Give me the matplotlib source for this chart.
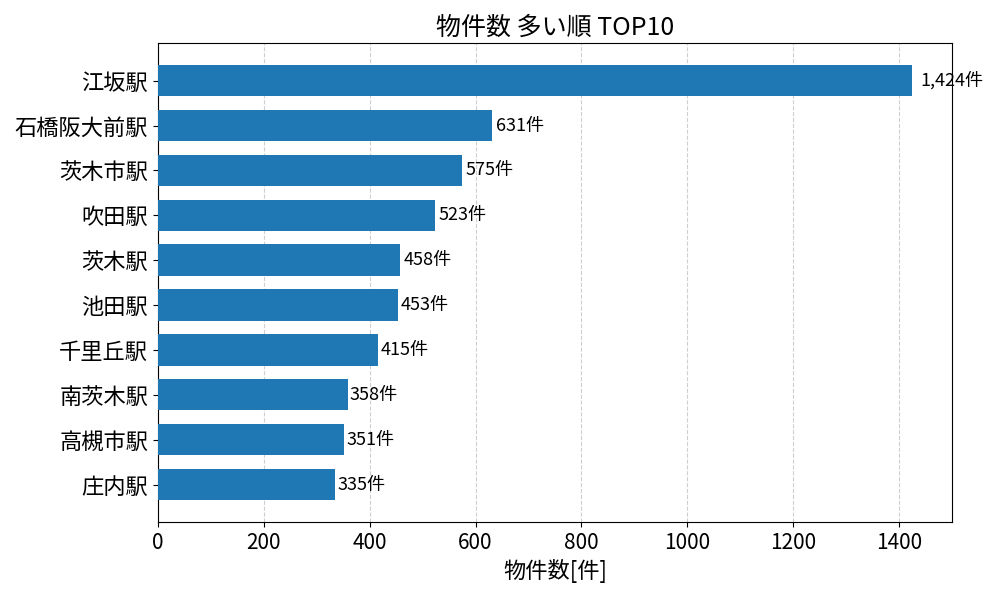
import matplotlib
matplotlib.use("Agg")
import matplotlib.pyplot as plt

plt.rcParams['font.family'] = ['Noto Sans CJK JP', 'DejaVu Sans']

stations = ['江坂駅', '石橋阪大前駅', '茨木市駅', '吹田駅', '茨木駅',
            '池田駅', '千里丘駅', '南茨木駅', '高槻市駅', '庄内駅']
counts = [1424, 631, 575, 523, 458, 453, 415, 358, 351, 335]

fig, ax = plt.subplots(figsize=(10, 6), dpi=100)
ax.barh(stations[::-1], counts[::-1], height=0.7, color='#1f77b4', zorder=3)

for i, v in enumerate(counts[::-1]):
    ax.text(v * 1.012, i, f"{v:,}件", va='center', ha='left', fontsize=13)

ax.set_xlim(0, 1500)
ax.set_title("物件数 多い順 TOP10", fontsize=18)
ax.set_xlabel("物件数[件]", fontsize=16)
ax.tick_params(axis='y', labelsize=16)
ax.tick_params(axis='x', labelsize=15)
ax.grid(axis='x', linestyle='--', alpha=0.6, zorder=0)

fig.subplots_adjust(left=0.158, right=0.952, top=0.928, bottom=0.13)
fig.savefig("out.png")
